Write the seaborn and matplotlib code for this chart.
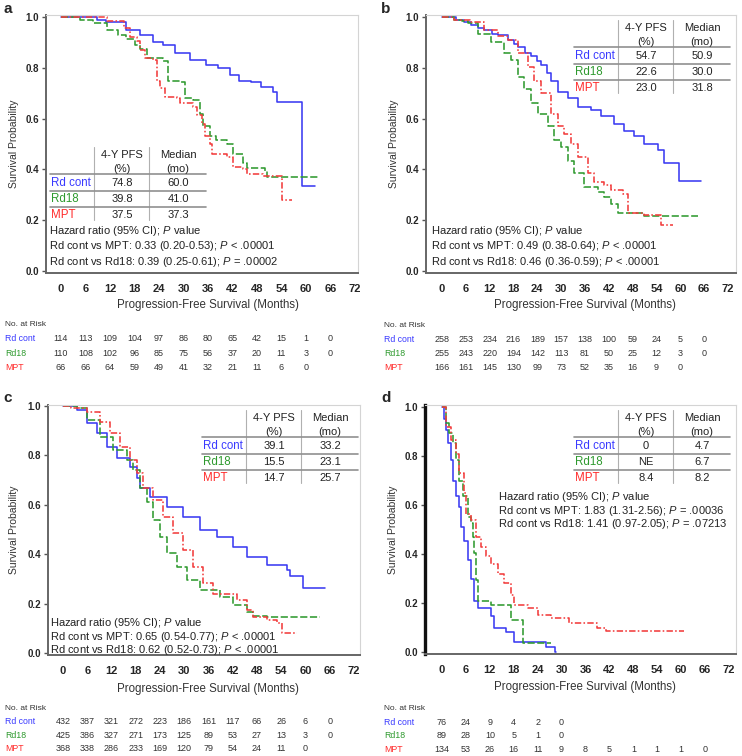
import matplotlib
matplotlib.use("Agg")
import matplotlib.pyplot as plt
import matplotlib.transforms as mtransforms
from matplotlib.lines import Line2D
import seaborn as sns

W, H = 742, 756

# ---- data -------------------------------------------------------------
MONTHS = [0, 6, 12, 18, 24, 30, 36, 42, 48, 54, 60, 66, 72]
ARMS = ["Rd cont", "Rd18", "MPT"]

# Kaplan-Meier steps: (month, survival)
A_RDCONT = [(0, 1.0), (8.7, 0.99), (11, 0.98), (16, 0.95), (19.3, 0.93), (22.5, 0.90), (25, 0.89),
            (28, 0.86), (31.5, 0.83), (35.5, 0.81), (38.5, 0.80), (41.5, 0.77), (43.5, 0.75),
            (46.5, 0.745), (49, 0.725), (52, 0.705), (53, 0.665), (59, 0.335), (62.2, 0.335)]
A_RD18 = [(0, 1.0), (4.6, 0.99), (7.9, 0.975), (11.2, 0.95), (14, 0.93), (16, 0.915), (18, 0.89),
          (19.3, 0.875), (21, 0.84), (25, 0.825), (26.3, 0.75), (29.1, 0.745), (30.4, 0.68),
          (32.4, 0.675), (34, 0.62), (34.8, 0.57), (36.5, 0.53), (38, 0.515), (40.6, 0.50),
          (42.2, 0.46), (44.6, 0.425), (45.5, 0.405), (50, 0.395), (50.4, 0.372), (63, 0.372)]
A_MPT = [(0, 1.0), (11.2, 0.985), (15.5, 0.955), (16.9, 0.92), (18.5, 0.905), (19.3, 0.87),
         (20.6, 0.84), (22.6, 0.83), (23.4, 0.75), (24.2, 0.72), (25.5, 0.685), (28.3, 0.68),
         (29.1, 0.66), (32.4, 0.645), (33.2, 0.615), (34.5, 0.58), (35.3, 0.53), (36.5, 0.50),
         (36.9, 0.46), (40.6, 0.45), (42.2, 0.41), (44.6, 0.40), (45.5, 0.38), (49.5, 0.375),
         (54.1, 0.28), (56.5, 0.28)]

B_RDCONT = [(0, 1.0), (3.5, 0.99), (5.5, 0.98), (7.3, 0.97), (9, 0.955), (10.6, 0.95), (12.5, 0.935),
            (14, 0.93), (16.6, 0.91), (18, 0.895), (19.2, 0.88), (21, 0.86), (22.4, 0.845),
            (24, 0.825), (24.9, 0.81), (26.5, 0.78), (27.5, 0.75), (29.2, 0.705), (31.7, 0.68),
            (34.3, 0.645), (37.5, 0.635), (40, 0.61), (43.3, 0.58), (45.8, 0.55), (48.3, 0.53),
            (50.9, 0.50), (54.4, 0.475), (56, 0.425), (59.7, 0.355), (65.2, 0.355)]
B_RD18 = [(0, 1.0), (3, 0.99), (5, 0.985), (6.5, 0.975), (9, 0.935), (12.3, 0.90), (15.6, 0.86),
          (17.4, 0.83), (19.1, 0.765), (20.7, 0.715), (22.4, 0.66), (24.2, 0.62), (26.7, 0.57),
          (28.2, 0.515), (29.9, 0.49), (31.7, 0.435), (33.2, 0.385), (35.8, 0.33), (39.3, 0.31),
          (40.8, 0.29), (42.6, 0.265), (44.3, 0.23), (46.9, 0.228), (50.9, 0.217), (64.5, 0.217)]
B_MPT = [(0, 1.0), (3, 0.99), (7, 0.98), (10.6, 0.95), (14, 0.925), (16.6, 0.91), (19.2, 0.86),
         (21.7, 0.805), (23.2, 0.75), (24.9, 0.70), (27.5, 0.62), (29.2, 0.57), (30.7, 0.54),
         (32.5, 0.50), (34.2, 0.45), (36.8, 0.385), (38.3, 0.35), (40.8, 0.34), (42.6, 0.32),
         (45.6, 0.305), (46.9, 0.23), (50.9, 0.22), (55.2, 0.18), (58.2, 0.18)]

C_RDCONT = [(0, 1.0), (3.4, 0.985), (5.9, 0.93), (8.4, 0.89), (10.9, 0.835), (13.4, 0.79),
            (16.6, 0.755), (18.3, 0.71), (19.1, 0.67), (21.5, 0.63), (25.7, 0.59), (29.7, 0.55),
            (33.9, 0.50), (38.1, 0.47), (42.1, 0.43), (45.5, 0.39), (50.5, 0.355), (55.4, 0.335),
            (56.2, 0.31), (59.4, 0.265), (64.8, 0.265)]
C_RD18 = [(0, 1.0), (3.5, 0.99), (5.9, 0.945), (9.2, 0.875), (12.4, 0.82), (15.8, 0.78), (17.3, 0.74),
          (19.1, 0.67), (20.8, 0.61), (22.3, 0.54), (24, 0.47), (25.7, 0.405), (28.2, 0.35),
          (30.7, 0.295), (33.9, 0.255), (38.9, 0.227), (42.1, 0.195), (45.5, 0.166), (47, 0.15),
          (50.5, 0.147), (63.6, 0.147)]
C_MPT = [(0, 1.0), (2, 0.99), (5.9, 0.975), (9.2, 0.935), (11.6, 0.89), (14.1, 0.835), (16.6, 0.78),
         (18.3, 0.73), (19.8, 0.67), (22.3, 0.62), (24.8, 0.55), (27.2, 0.485), (29.7, 0.415),
         (32.2, 0.35), (34.7, 0.285), (37.1, 0.24), (43, 0.215), (45.5, 0.175), (47, 0.145),
         (50.5, 0.135), (53, 0.12), (54.2, 0.08), (57.9, 0.08)]

D_RDCONT = [(0, 1.0), (0.5, 0.95), (1, 0.905), (1.5, 0.855), (2.3, 0.785), (2.8, 0.70), (3.5, 0.635),
            (4.3, 0.59), (4.8, 0.51), (5.5, 0.455), (6.5, 0.375), (7.3, 0.30), (8, 0.21), (9, 0.18),
            (12.3, 0.145), (13, 0.10), (16, 0.08), (18, 0.04), (26, 0.02), (28.3, 0.0), (28.6, 0.0)]
D_RD18 = [(0, 1.0), (1, 0.935), (1.8, 0.895), (2.8, 0.855), (3.5, 0.785), (4.3, 0.70), (5.2, 0.635),
          (6.5, 0.55), (7.3, 0.525), (7.8, 0.47), (8, 0.405), (8.5, 0.295), (9, 0.21), (12.3, 0.19),
          (17.3, 0.13), (20.3, 0.035), (27.3, 0.035)]
D_MPT = [(0, 1.0), (1, 0.92), (2.3, 0.865), (3.5, 0.81), (4.3, 0.73), (5.5, 0.65), (6, 0.565),
         (7.3, 0.54), (8.5, 0.47), (9.8, 0.43), (11, 0.39), (12.3, 0.36), (14, 0.32), (15.5, 0.28),
         (17.3, 0.233), (18, 0.19), (21.5, 0.18), (24, 0.15), (27.3, 0.14), (31.8, 0.118),
         (39, 0.10), (41.1, 0.086), (60.6, 0.086)]

# number at risk
A_RISK = [[114, 113, 109, 104, 97, 86, 80, 65, 42, 15, 1, 0],
          [110, 108, 102, 96, 85, 75, 56, 37, 20, 11, 3, 0],
          [66, 66, 64, 59, 49, 41, 32, 21, 11, 6, 0]]
B_RISK = [[258, 253, 234, 216, 189, 157, 138, 100, 59, 24, 5, 0],
          [255, 243, 220, 194, 142, 113, 81, 50, 25, 12, 3, 0],
          [166, 161, 145, 130, 99, 73, 52, 35, 16, 9, 0]]
C_RISK = [[432, 387, 321, 272, 223, 186, 161, 117, 66, 26, 6, 0],
          [425, 386, 327, 271, 173, 125, 89, 53, 27, 13, 3, 0],
          [368, 338, 286, 233, 169, 120, 79, 54, 24, 11, 0]]
D_RISK = [[76, 24, 9, 4, 2, 0],
          [89, 28, 10, 5, 1, 0],
          [134, 53, 26, 16, 11, 9, 8, 5, 1, 1, 1, 0]]

# summary tables: 4-Y PFS (%), median (mo)
A_PFS4, A_MEDIAN = ["74.8", "39.8", "37.5"], ["60.0", "41.0", "37.3"]
B_PFS4, B_MEDIAN = ["54.7", "22.6", "23.0"], ["50.9", "30.0", "31.8"]
C_PFS4, C_MEDIAN = ["39.1", "15.5", "14.7"], ["33.2", "23.1", "25.7"]
D_PFS4, D_MEDIAN = ["0", "NE", "8.4"], ["4.7", "6.7", "8.2"]

A_HR = ["0.33 (0.20-0.53); $\\mathit{P}$ < .00001", "0.39 (0.25-0.61); $\\mathit{P}$ = .00002"]
B_HR = ["0.49 (0.38-0.64); $\\mathit{P}$ < .00001", "0.46 (0.36-0.59); $\\mathit{P}$ < .00001"]
C_HR = ["0.65 (0.54-0.77); $\\mathit{P}$ < .00001", "0.62 (0.52-0.73); $\\mathit{P}$ < .00001"]
D_HR = ["1.83 (1.31-2.56); $\\mathit{P}$ = .00036", "1.41 (0.97-2.05); $\\mathit{P}$ = .07213"]

# ---- style -------------------------------------------------------------
sns.set_theme(style="white")
plt.rcParams["font.family"] = ["Liberation Sans", "DejaVu Sans"]
plt.rcParams["mathtext.fontset"] = "custom"
plt.rcParams["mathtext.rm"] = "Liberation Sans"
plt.rcParams["mathtext.it"] = "Liberation Sans:italic"

LINE_COLORS = ["#3b3bf2", "#2f9a2f", "#f23c3c"]
TEXT_COLORS = ["#3a3aff", "#2e9a2e", "#ff2a2a"]
LINE_STYLES = ["-", (0, (4.5, 1.6)), (0, (4, 1.4, 1, 1.4))]

fig = plt.figure(figsize=(W / 100, H / 100), dpi=100)


def fx(x):
    return x / W


def fy(y):
    return 1 - y / H


def ftext(x, y, s, **kw):
    fig.text(fx(x), fy(y), s, **kw)


def make_axes(left, right, top, bottom, x0px, x72px, y1px, y0px, heavy_left=False):
    ax = fig.add_axes([fx(left), fy(bottom), fx(right - left), (bottom - top) / H])
    sx = (x72px - x0px) / 72.0
    sy = (y0px - y1px) / 1.0
    ax.set_xlim((left - x0px) / sx, (right - x0px) / sx)
    ax.set_ylim((y0px - bottom) / sy, (y0px - top) / sy)
    ax.set_xticks(MONTHS)
    ax.set_yticks([0, 0.2, 0.4, 0.6, 0.8, 1.0])
    ax.set_yticklabels(["0.0", "0.2", "0.4", "0.6", "0.8", "1.0"])
    ax.tick_params(axis="x", length=0, pad=8, labelsize=8)
    ax.tick_params(axis="y", length=3, width=1, pad=2, labelsize=7, left=True, color="#555555")
    for lab in ax.get_xticklabels() + ax.get_yticklabels():
        lab.set_fontweight("bold")
    for side in ["top", "right"]:
        ax.spines[side].set_color("#d4d4d4")
        ax.spines[side].set_linewidth(0.8)
    ax.spines["bottom"].set_color("#666666")
    ax.spines["bottom"].set_linewidth(1.4)
    ax.spines["left"].set_color("#111111" if heavy_left else "#666666")
    ax.spines["left"].set_linewidth(2.4 if heavy_left else 1.4)
    return ax


def draw_curves(ax, curves):
    for pts, col, ls in zip(curves, LINE_COLORS, LINE_STYLES):
        t = [p[0] for p in pts]
        s = [p[1] for p in pts]
        sns.lineplot(x=t, y=s, ax=ax, color=col, linestyle=ls, linewidth=1.15,
                     drawstyle="steps-post", estimator=None, sort=False)


def draw_table(x0, ytop, pfs, med):
    lines = [
        ((x0 + 44, x0 + 44), (ytop - 8, ytop + 65), "#b0b0b0", 0.8),
        ((x0 + 99, x0 + 99), (ytop - 8, ytop + 65), "#b0b0b0", 0.8),
        ((x0, x0 + 156), (ytop + 19, ytop + 19), "#909090", 1.2),
        ((x0, x0 + 156), (ytop + 36, ytop + 36), "#909090", 1.2),
        ((x0, x0 + 156), (ytop + 52, ytop + 52), "#909090", 1.2),
    ]
    for xs, ys, c, lw in lines:
        fig.add_artist(Line2D([fx(v) for v in xs], [fy(v) for v in ys],
                              transform=fig.transFigure, color=c, lw=lw))
    kw = dict(ha="center", va="center", fontsize=8, color="#222222")
    ftext(x0 + 72, ytop, "4-Y PFS", **kw)
    ftext(x0 + 72, ytop + 14, "(%)", **kw)
    ftext(x0 + 128, ytop, "Median", **kw)
    ftext(x0 + 128, ytop + 14, "(mo)", **kw)
    for i, arm in enumerate(ARMS):
        yy = ytop + 28 + i * 16
        ftext(x0 + 1, yy, arm, ha="left", va="center", fontsize=8.3, color=TEXT_COLORS[i])
        ftext(x0 + 72, yy, pfs[i], **kw)
        ftext(x0 + 128, yy, med[i], **kw)


def draw_hr(x, ys, hr):
    kw = dict(ha="left", va="center", fontsize=8, color="#222222")
    ftext(x, ys[0], "Hazard ratio (95% CI); $\\mathit{P}$ value", **kw)
    ftext(x, ys[1], "Rd cont vs MPT: " + hr[0], **kw)
    ftext(x, ys[2], "Rd cont vs Rd18: " + hr[1], **kw)


def draw_risk(ax, xlab, ytitle, row_dy, risk):
    trans = mtransforms.blended_transform_factory(ax.transData, fig.transFigure)
    ftext(xlab, ytitle, "No. at Risk", ha="left", va="center", fontsize=6, color="#333333")
    for i, arm in enumerate(ARMS):
        yy = ytitle + (i + 1) * row_dy
        ftext(xlab, yy, arm, ha="left", va="center", fontsize=6.3, color=TEXT_COLORS[i])
        for m, n in zip(MONTHS, risk[i]):
            ax.text(m, fy(yy), str(n), transform=trans, ha="center", va="center",
                    fontsize=6.5, color="#333333")


def labels(ax, letter, lx, ly, ylx, yly, xlx, xly):
    ftext(lx, ly, letter, ha="left", va="center", fontsize=11, fontweight="bold")
    ftext(ylx, yly, "Survival Probability", rotation=90, ha="center", va="center",
          fontsize=7.5, color="#333333")
    ftext(xlx, xly, "Progression-Free Survival (Months)", ha="center", va="center",
          fontsize=8.3, color="#333333")


# ---- panel a ----------------------------------------------------------
ax_a = make_axes(46, 358, 15, 273, 61, 355, 17, 271)
draw_curves(ax_a, [A_RDCONT, A_RD18, A_MPT])
draw_table(50, 155, A_PFS4, A_MEDIAN)
draw_hr(49, [231, 246, 262], A_HR)
draw_risk(ax_a, 5, 325, 14, A_RISK)
labels(ax_a, "a", 3, 9, 14, 144, 208, 305)

# ---- panel b ----------------------------------------------------------
ax_b = make_axes(426, 736, 15, 273, 442, 728, 17, 271)
draw_curves(ax_b, [B_RDCONT, B_RD18, B_MPT])
draw_table(574, 28, B_PFS4, B_MEDIAN)
draw_hr(431, [231, 246, 262], B_HR)
draw_risk(ax_b, 384, 326, 14, B_RISK)
labels(ax_b, "b", 381, 9, 394, 144, 585, 305)

# ---- panel c ----------------------------------------------------------
ax_c = make_axes(48, 360, 405, 655, 63, 354, 406, 653)
draw_curves(ax_c, [C_RDCONT, C_RD18, C_MPT])
draw_table(202, 418, C_PFS4, C_MEDIAN)
draw_hr(50, [623, 637, 650], C_HR)
draw_risk(ax_c, 5, 708, 13.5, C_RISK)
labels(ax_c, "c", 3, 398, 14, 530, 208, 689)

# ---- panel d ----------------------------------------------------------
ax_d = make_axes(425, 736, 405, 654, 442, 729, 407, 652, heavy_left=True)
draw_curves(ax_d, [D_RDCONT, D_RD18, D_MPT])
draw_table(574, 418, D_PFS4, D_MEDIAN)
draw_hr(498, [497, 511, 524], D_HR)
draw_risk(ax_d, 384, 709, 13.5, D_RISK)
labels(ax_d, "d", 381, 398, 393, 530, 585, 687)

fig.savefig("out.png", dpi=100)
